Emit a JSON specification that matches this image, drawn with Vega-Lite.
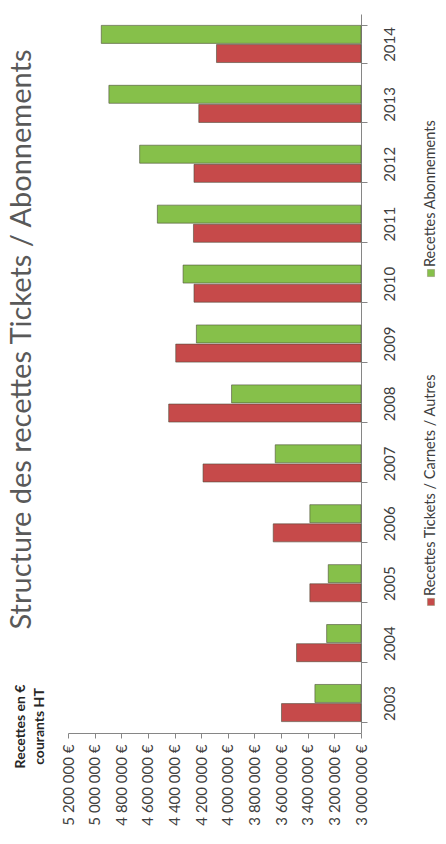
{
  "$schema": "https://vega.github.io/schema/vega-lite/v6.json",
  "autosize": {"type": "pad"},
  "padding": {"left": 7, "top": 13, "right": 0, "bottom": 0},
  "background": "white",
  "title": {
    "text": "Structure des recettes Tickets / Abonnements",
    "orient": "left",
    "anchor": "middle",
    "fontSize": 29,
    "font": "Lato",
    "fontWeight": "normal",
    "color": "#595959",
    "offset": -24,
    "dx": 80
  },
  "data": {
    "values": [
      {"year": "2003", "series": "Recettes Abonnements", "value": 3346000},
      {"year": "2003", "series": "Recettes Tickets / Carnets / Autres", "value": 3597000},
      {"year": "2004", "series": "Recettes Abonnements", "value": 3258000},
      {"year": "2004", "series": "Recettes Tickets / Carnets / Autres", "value": 3484000},
      {"year": "2005", "series": "Recettes Abonnements", "value": 3246000},
      {"year": "2005", "series": "Recettes Tickets / Carnets / Autres", "value": 3384000},
      {"year": "2006", "series": "Recettes Abonnements", "value": 3384000},
      {"year": "2006", "series": "Recettes Tickets / Carnets / Autres", "value": 3659000},
      {"year": "2007", "series": "Recettes Abonnements", "value": 3644000},
      {"year": "2007", "series": "Recettes Tickets / Carnets / Autres", "value": 4186000},
      {"year": "2008", "series": "Recettes Abonnements", "value": 3972000},
      {"year": "2008", "series": "Recettes Tickets / Carnets / Autres", "value": 4444000},
      {"year": "2009", "series": "Recettes Abonnements", "value": 4236000},
      {"year": "2009", "series": "Recettes Tickets / Carnets / Autres", "value": 4391000},
      {"year": "2010", "series": "Recettes Abonnements", "value": 4336000},
      {"year": "2010", "series": "Recettes Tickets / Carnets / Autres", "value": 4254000},
      {"year": "2011", "series": "Recettes Abonnements", "value": 4529000},
      {"year": "2011", "series": "Recettes Tickets / Carnets / Autres", "value": 4258000},
      {"year": "2012", "series": "Recettes Abonnements", "value": 4662000},
      {"year": "2012", "series": "Recettes Tickets / Carnets / Autres", "value": 4254000},
      {"year": "2013", "series": "Recettes Abonnements", "value": 4893000},
      {"year": "2013", "series": "Recettes Tickets / Carnets / Autres", "value": 4218000},
      {"year": "2014", "series": "Recettes Abonnements", "value": 4950000},
      {"year": "2014", "series": "Recettes Tickets / Carnets / Autres", "value": 4085000}
    ]
  },
  "spacing": 24,
  "hconcat": [
    {
      "width": 293,
      "height": 719,
      "mark": {"type": "bar", "stroke": "#4d4d3a", "strokeWidth": 0.6},
      "encoding": {
        "y": {
          "field": "year",
          "type": "ordinal",
          "sort": "descending",
          "scale": {"paddingInner": 0.38, "paddingOuter": 0.19},
          "axis": {
            "orient": "right",
            "title": null,
            "labelAngle": 270,
            "labelAlign": "center",
            "labelBaseline": "top",
            "labelFont": "Lato",
            "labelFontSize": 15,
            "labelColor": "#404040",
            "labelPadding": 15,
            "tickBand": "extent",
            "tickSize": 6,
            "tickColor": "#868686",
            "domainColor": "#868686"
          }
        },
        "yOffset": {
          "field": "series",
          "type": "nominal",
          "sort": ["Recettes Abonnements", "Recettes Tickets / Carnets / Autres"],
          "scale": {"paddingInner": 0.06}
        },
        "x": {
          "field": "value",
          "type": "quantitative",
          "scale": {"domain": [3000000, 5200000], "reverse": true, "zero": false, "nice": false},
          "axis": {
            "title": ["Recettes en €", "courants HT"],
            "titleFont": "Lato",
            "titleFontWeight": "bold",
            "titleFontSize": 14,
            "titleColor": "#262626",
            "titleAngle": 270,
            "titleAlign": "center",
            "titleBaseline": "top",
            "titleX": -55,
            "titleY": -7,
            "titleLineHeight": 19,
            "values": [3000000, 3200000, 3400000, 3600000, 3800000, 4000000, 4200000, 4400000, 4600000, 4800000, 5000000, 5200000],
            "labelExpr": "replace(format(datum.value, ','), regexp(',', 'g'), ' ') + ' €'",
            "labelAngle": 270,
            "labelAlign": "right",
            "labelBaseline": "middle",
            "labelFont": "Lato",
            "labelFontSize": 15,
            "labelColor": "#404040",
            "labelPadding": 6,
            "labelOverlap": false,
            "tickSize": 5,
            "tickColor": "#868686",
            "domainColor": "#868686",
            "grid": false
          }
        },
        "x2": {"datum": 3000000},
        "color": {
          "field": "series",
          "type": "nominal",
          "scale": {
            "domain": ["Recettes Abonnements", "Recettes Tickets / Carnets / Autres"],
            "range": ["#86C04A", "#C64A4A"]
          },
          "legend": null
        }
      }
    },
    {
      "width": 10,
      "height": 719,
      "transform": [{"aggregate": [], "groupby": ["series"]}],
      "encoding": {
        "y": {
          "field": "series",
          "type": "nominal",
          "sort": ["Recettes Abonnements", "Recettes Tickets / Carnets / Autres"],
          "scale": {"type": "point", "padding": 0.593, "align": 0.664},
          "axis": null
        }
      },
      "layer": [
        {
          "mark": {"type": "square", "size": 50, "opacity": 1, "stroke": "#8a8a6a", "strokeWidth": 0.5},
          "encoding": {
            "color": {
              "field": "series",
              "type": "nominal",
              "scale": {
                "domain": ["Recettes Abonnements", "Recettes Tickets / Carnets / Autres"],
                "range": ["#86C04A", "#C64A4A"]
              },
              "legend": null
            }
          }
        },
        {
          "mark": {"type": "text", "angle": 270, "align": "left", "baseline": "middle", "dx": 6, "font": "Lato", "fontSize": 14.5, "color": "#404040"},
          "encoding": {"text": {"field": "series"}}
        }
      ]
    }
  ],
  "resolve": {"scale": {"y": "independent", "x": "independent", "color": "shared"}},
  "config": {"view": {"stroke": null}, "font": "Lato"}
}
